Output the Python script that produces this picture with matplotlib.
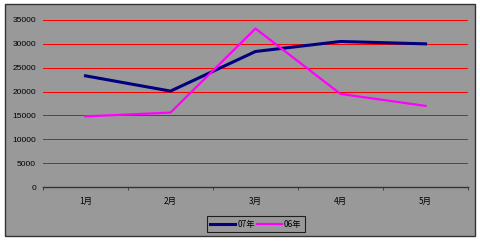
import matplotlib.pyplot as plt
from matplotlib.patches import Rectangle

plt.rcParams['font.family'] = ['Noto Sans CJK SC', 'DejaVu Sans']

months = ['1月', '2月', '3月', '4月', '5月']
sales_07 = [23300, 20100, 28400, 30500, 30000]
sales_06 = [14800, 15600, 33200, 19500, 17000]
yticks = [0, 5000, 10000, 15000, 20000, 25000, 30000, 35000]

bg = '#999999'

fig = plt.figure(figsize=(4.8, 2.41), dpi=100)
fig.patch.set_facecolor('white')

# outer chart frame
fig.patches.append(Rectangle((5 / 480, 1 - 236 / 241), 470 / 480, 232 / 241,
                             transform=fig.transFigure, facecolor=bg,
                             edgecolor='#333333', linewidth=1.0, zorder=-5))

ax = fig.add_axes([43 / 480, 1 - 187 / 241, 425 / 480, 167 / 241])
ax.set_zorder(2)
ax.set_facecolor(bg)

x = list(range(1, len(months) + 1))
ax.plot(x, sales_07, color='#000080', linewidth=2.2, label='07年', zorder=3)
ax.plot(x, sales_06, color='#FF00FF', linewidth=1.6, label='06年', zorder=3)

ax.set_xlim(0.5, len(months) + 0.5)
ax.set_ylim(0, 35000)
ax.set_yticks(yticks)
ax.set_yticklabels([str(v) for v in yticks], fontsize=6, family='Liberation Sans')
ax.set_xticks(x)
ax.set_xticklabels(months, fontsize=6)
ax.set_xticks([i + 0.5 for i in range(0, len(months) + 1)], minor=True)
ax.tick_params(axis='x', which='major', length=0, pad=7)
ax.tick_params(axis='x', which='minor', length=2, direction='out', color='#333333')
ax.tick_params(axis='y', length=0, pad=5)

for v in yticks[1:]:
    ax.axhline(v, color='#FF0000', linewidth=0.72, zorder=1, antialiased=False)

for side in ['top', 'right', 'left']:
    ax.spines[side].set_visible(False)
ax.spines['bottom'].set_color('#333333')
ax.spines['bottom'].set_linewidth(1.0)

leg = fig.legend(loc='center', bbox_to_anchor=(256 / 480, 1 - 224 / 241), ncol=2,
                 fontsize=6, frameon=True, fancybox=False, handlelength=3.0,
                 handletextpad=0.2, columnspacing=0.3, borderpad=0.4)
leg.get_frame().set_facecolor(bg)
leg.get_frame().set_edgecolor('#000000')
leg.get_frame().set_linewidth(0.8)
leg.set_zorder(5)

fig.savefig('out.png', dpi=100, facecolor='white')
